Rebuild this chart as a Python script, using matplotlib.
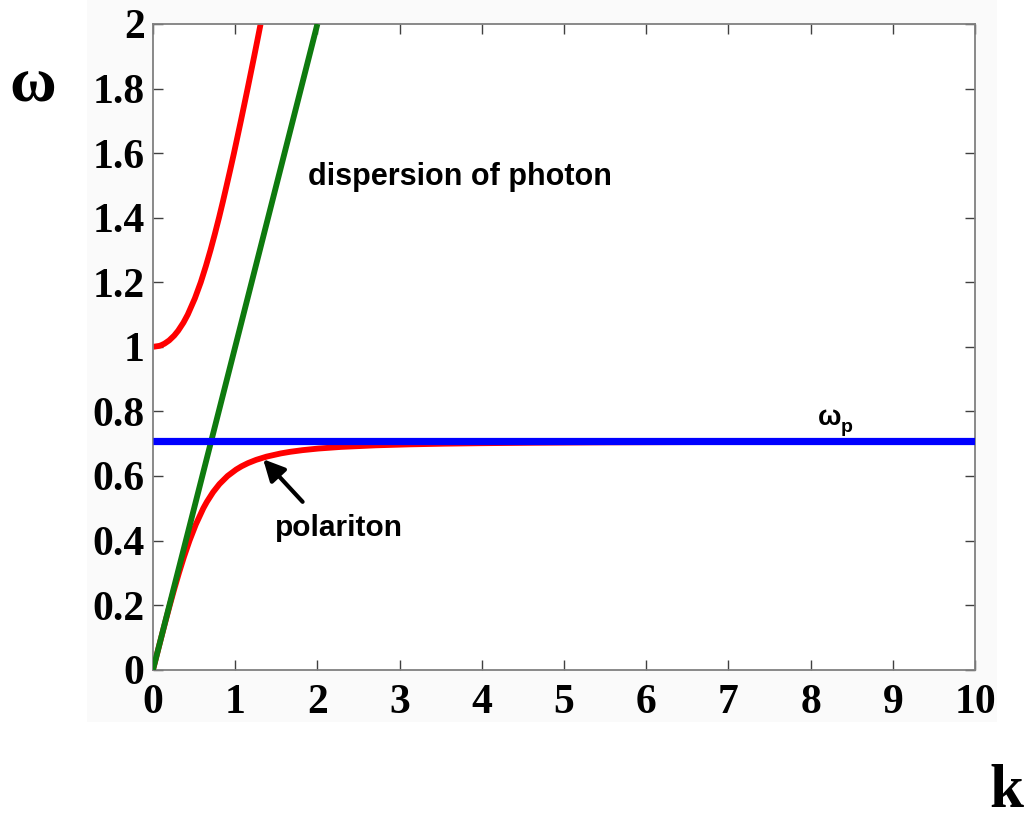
import matplotlib
matplotlib.use("Agg")
import matplotlib.pyplot as plt
from matplotlib.patches import Rectangle

# Photon light line (omega = k)
photon_k = [0.0, 1.0, 2.0]
photon_w = [0.0, 1.0, 2.0]

# Upper polariton branch (starts at omega = 1 for k = 0)
upper_k = [0.0, 0.0773, 0.0997, 0.1404, 0.197, 0.2584, 0.306, 0.3703, 0.423,
           0.5092, 0.581, 0.6431, 0.700, 0.7528, 0.803, 0.8504, 0.896, 0.9410,
           0.985, 1.0271, 1.069, 1.1102, 1.151, 1.1910, 1.231, 1.2702, 1.309]
upper_w = [1.0, 1.003, 1.005, 1.01, 1.02, 1.035, 1.05, 1.075, 1.10,
           1.15, 1.20, 1.25, 1.30, 1.35, 1.40, 1.45, 1.50, 1.55,
           1.60, 1.65, 1.70, 1.75, 1.80, 1.85, 1.90, 1.95, 2.00]

# Lower polariton branch (approaches the plasma line)
lower_k = [0.0, 0.0501, 0.1005, 0.1518, 0.2043, 0.2588, 0.316, 0.3773, 0.4446,
           0.5210, 0.612, 0.6555, 0.731, 0.8083, 0.907, 1.0117, 1.077, 1.1565,
           1.255, 1.3816, 1.556, 1.6717, 1.818, 2.0116, 2.284, 2.712, 3.1245,
           3.535, 3.9779, 4.646, 5.34, 5.52, 7.0, 10.0]
lower_w = [0.0, 0.05, 0.10, 0.15, 0.20, 0.25, 0.30, 0.35, 0.40,
           0.45, 0.50, 0.52, 0.55, 0.575, 0.60, 0.62, 0.63, 0.64,
           0.65, 0.66, 0.67, 0.675, 0.68, 0.685, 0.69, 0.695, 0.698,
           0.700, 0.7015, 0.703, 0.704, 0.7042, 0.7053, 0.7062]

# Plasma frequency line
plasma_k = [0.0, 10.0]
plasma_w = [0.707, 0.707]

x_ticks = [0, 1, 2, 3, 4, 5, 6, 7, 8, 9, 10]
x_labels = ["0", "1", "2", "3", "4", "5", "6", "7", "8", "9", "10"]
y_ticks = [0, 0.2, 0.4, 0.6, 0.8, 1.0, 1.2, 1.4, 1.6, 1.8, 2.0]
y_labels = ["0", "0.2", "0.4", "0.6", "0.8", "1", "1.2", "1.4", "1.6", "1.8", "2"]

W, H = 1031, 824
fig = plt.figure(figsize=(W / 100, H / 100), dpi=100)
fig.patch.set_facecolor("white")
fig.add_artist(Rectangle((87 / W, (H - 722) / H), (997 - 87) / W, 722 / H,
                         transform=fig.transFigure, facecolor="#fafafa",
                         edgecolor="none", zorder=-10))

ax = fig.add_axes([153 / W, (H - 669.7) / H, 822 / W, 645.7 / H])
ax.set_facecolor("white")

ax.plot(lower_k, lower_w, color="#ff0000", lw=4.2, solid_capstyle="butt",
        solid_joinstyle="round", zorder=2)
ax.plot(upper_k, upper_w, color="#ff0000", lw=4.2, solid_capstyle="butt",
        solid_joinstyle="round", zorder=2)
ax.plot(photon_k, photon_w, color="#0e7a0e", lw=4.2, solid_capstyle="butt", zorder=3)
ax.plot(plasma_k, plasma_w, color="#0000ff", lw=5.2, solid_capstyle="butt", zorder=4)

ax.set_xlim(0, 10)
ax.set_ylim(0, 2)
ax.set_xticks(x_ticks)
ax.set_xticklabels(x_labels)
ax.set_yticks(y_ticks)
ax.set_yticklabels(y_labels)

serif_bold = dict(family="Liberation Serif", weight="bold")
for lab in ax.get_xticklabels() + ax.get_yticklabels():
    lab.set_fontfamily("Liberation Serif")
    lab.set_fontweight("bold")
    lab.set_fontsize(30)

ax.tick_params(axis="both", direction="in", length=7, width=1.0,
               color="#404040", top=True, right=True)
ax.tick_params(axis="x", pad=10)
ax.tick_params(axis="y", pad=6)
for sp in ax.spines.values():
    sp.set_color("#808080")
    sp.set_linewidth(1.3)

# Axis symbols
fig.text(33 / W, 1 - 86 / H, "ω", fontsize=46, ha="center", va="center", **serif_bold)
fig.text(1006 / W, 1 - 792 / H, "k", fontsize=44, ha="center", va="center", **serif_bold)

sans_bold = dict(family="Liberation Sans", weight="bold")
ax.text(1.886, 1.501, "dispersion of photon", fontsize=22, ha="left",
        va="baseline", **sans_bold)
ax.text(1.484, 0.414, "polariton", fontsize=21.5, ha="left", va="baseline", **sans_bold)
ax.annotate("", xy=(1.34, 0.652), xytext=(1.82, 0.52),
            arrowprops=dict(arrowstyle="-|>", color="black", lw=3,
                            mutation_scale=32, shrinkA=0, shrinkB=0))

# Plasma frequency label with subscript
ax.text(8.09, 0.758, "ω", fontsize=20, ha="left", va="baseline", **sans_bold)
ax.text(8.37, 0.736, "p", fontsize=14, ha="left", va="baseline", **sans_bold)

fig.savefig("out.png", dpi=100, facecolor=fig.get_facecolor())
